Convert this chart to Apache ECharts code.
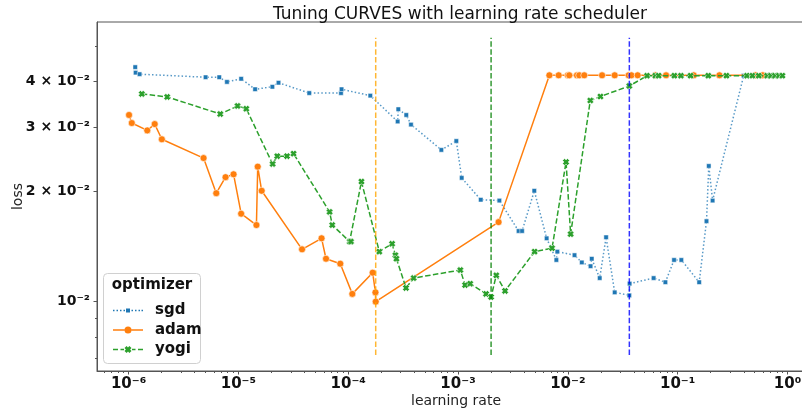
<!DOCTYPE html>
<html><head><meta charset="utf-8">
<script src="https://cdn.jsdelivr.net/npm/echarts@6/dist/echarts.min.js"></script>
<style>html,body{margin:0;padding:0;background:#fff;overflow:hidden}#c{width:830px;height:414px}</style>
</head><body><div id="c"></div>
<script>
// ---- data ----
const sgdLr = [1.15e-6, 1.16e-6, 1.26e-6, 5.03e-6, 6.70e-6, 7.87e-6, 1.06e-5, 1.42e-5, 2.04e-5, 2.32e-5, 4.42e-5, 8.6e-5, 8.7e-5, 1.59e-4, 2.82e-4, 2.86e-4, 3.38e-4, 3.73e-4, 7.05e-4, 9.65e-4, 1.08e-3, 1.61e-3, 2.38e-3, 3.56e-3, 3.83e-3, 4.95e-3, 6.41e-3, 7.86e-3, 8.02e-3, 0.0115, 0.0134, 0.0161, 0.0165, 0.0195, 0.0223, 0.0267, 0.0363, 0.0365, 0.0604, 0.0773, 0.0927, 0.108, 0.157, 0.183, 0.192, 0.208, 0.399, 0.55, 0.7, 0.85];
const sgdLoss = [0.0438, 0.0423, 0.0419, 0.0411, 0.0411, 0.0399, 0.0407, 0.0381, 0.0387, 0.0397, 0.0372, 0.0372, 0.0381, 0.0366, 0.0311, 0.0336, 0.0324, 0.0305, 0.0260, 0.0275, 0.0218, 0.0190, 0.0189, 0.0156, 0.0156, 0.0201, 0.0149, 0.0130, 0.0137, 0.0134, 0.0128, 0.0125, 0.0131, 0.0116, 0.0150, 0.0106, 0.0104, 0.0112, 0.0116, 0.0113, 0.0130, 0.0130, 0.0113, 0.0166, 0.0235, 0.0189, 0.0415, 0.0415, 0.0415, 0.0415];

const adamLr = [1.01e-6, 1.07e-6, 1.48e-6, 1.73e-6, 2.01e-6, 4.82e-6, 6.29e-6, 7.64e-6, 9.04e-6, 1.06e-5, 1.46e-5, 1.50e-5, 1.63e-5, 3.80e-5, 5.72e-5, 6.28e-5, 8.47e-5, 1.09e-4, 1.67e-4, 1.77e-4, 1.78e-4, 2.34e-3, 6.79e-3, 8.25e-3, 0.0100, 0.0103, 0.0121, 0.0127, 0.0141, 0.0205, 0.0267, 0.0358, 0.0379, 0.0432, 0.0626, 0.0784, 0.140, 0.240, 0.510, 0.595];
const adamLoss = [0.0324, 0.0308, 0.0294, 0.0306, 0.0278, 0.0247, 0.0198, 0.0219, 0.0223, 0.0174, 0.0162, 0.0234, 0.0201, 0.0139, 0.0149, 0.0131, 0.0127, 0.0105, 0.0120, 0.0106, 0.0100, 0.0165, 0.0416, 0.0416, 0.0416, 0.0416, 0.0416, 0.0416, 0.0416, 0.0416, 0.0416, 0.0416, 0.0416, 0.0416, 0.0416, 0.0416, 0.0416, 0.0416, 0.0416, 0.0416];

const yogiLr = [1.32e-6, 2.25e-6, 6.84e-6, 9.83e-6, 1.18e-5, 2.05e-5, 2.26e-5, 2.77e-5, 3.18e-5, 6.77e-5, 7.16e-5, 1.03e-4, 1.06e-4, 1.32e-4, 1.92e-4, 2.51e-4, 2.69e-4, 2.75e-4, 3.36e-4, 3.94e-4, 1.05e-3, 1.16e-3, 1.29e-3, 1.80e-3, 2.00e-3, 2.23e-3, 2.68e-3, 4.98e-3, 7.18e-3, 9.63e-3, 0.0106, 0.0160, 0.0198, 0.0363, 0.0526, 0.0626, 0.0671, 0.0933, 0.107, 0.131, 0.190, 0.278, 0.427, 0.479, 0.547, 0.652, 0.706, 0.768, 0.835, 0.899];
const yogiLoss = [0.0370, 0.0363, 0.0326, 0.0343, 0.0337, 0.0238, 0.0250, 0.0250, 0.0254, 0.0176, 0.0162, 0.0146, 0.0146, 0.0213, 0.0137, 0.0144, 0.0134, 0.0131, 0.0109, 0.0116, 0.0122, 0.0111, 0.0112, 0.0105, 0.0103, 0.0118, 0.0107, 0.0137, 0.0140, 0.0241, 0.0153, 0.0355, 0.0364, 0.0389, 0.0415, 0.0415, 0.0415, 0.0415, 0.0415, 0.0415, 0.0415, 0.0415, 0.0415, 0.0415, 0.0415, 0.0415, 0.0415, 0.0415, 0.0415, 0.0415];

const bestLr = [1.78e-4, 2.0e-3, 0.0363];        // adam, yogi, sgd best learning rates
const bestSpan = [0.00715, 0.0527];               // vertical extent of the marker lines
const xTickValues = [1e-6, 1e-5, 1e-4, 1e-3, 1e-2, 1e-1, 1];
const yTickValues = [0.01, 0.02, 0.03, 0.04];
const yMinorValues = [0.007, 0.008, 0.009, 0.05];
const xRange = [5.16e-7, 1.78];
const yRange = [0.00646, 0.0582];

const xMinorValues = [];
for (let e = -7; e <= 0; e++) for (let m = 2; m <= 9; m++) {
  const v = m * Math.pow(10, e);
  if (v > xRange[0] && v < xRange[1]) xMinorValues.push(v);
}

const SUP = {'-':'⁻','0':'⁰','1':'¹','2':'²','3':'³','4':'⁴','5':'⁵','6':'⁶','7':'⁷','8':'⁸','9':'⁹'};
const sup = n => String(n).split('').map(c => SUP[c]).join('');
const fmtX = v => '10' + sup(Math.round(Math.log10(v)));
const fmtY = v => { const e = Math.floor(Math.log10(v) + 1e-9); const m = Math.round(v / Math.pow(10, e)); return (m === 1 ? '' : m + ' × ') + '10' + sup(e); };

const pairs = (xs, ys) => xs.map((x, i) => [x, ys[i]]);
const FONT = 'DejaVu Sans';
const XMARK = 'path://M0,3 L3,0 L5,2 L7,0 L10,3 L8,5 L10,7 L7,10 L5,8 L3,10 L0,7 L2,5 Z';

// legend icons (30 x 12 box): line sample + marker
const corners = 'M0,0 L0.01,0 L0.01,0.01 Z M30,12 L29.99,12 L29.99,11.99 Z ';
const seg = (a, b) => `M${a},5.25 L${b},5.25 L${b},6.75 L${a},6.75 Z `;
const iconSgd = 'path://' + corners + [0, 3.5, 7, 10.5, 18.5, 22, 25.5, 28.5].map(a => seg(a, a + 1.5)).join('') + 'M13,4 L17,4 L17,8 L13,8 Z';
const iconAdam = 'path://' + corners + seg(0, 11.6) + seg(18.4, 30) + 'M11.5,6 A3.5,3.5 0 1,0 18.5,6 A3.5,3.5 0 1,0 11.5,6 Z';
const iconYogi = 'path://' + corners + seg(0, 5) + seg(7.5, 11) + seg(19, 22.5) + seg(25, 30) +
  'M11.5,4.6 L13.6,2.5 L15,3.9 L16.4,2.5 L18.5,4.6 L17.1,6 L18.5,7.4 L16.4,9.5 L15,8.1 L13.6,9.5 L11.5,7.4 L12.9,6 Z';

const chart = echarts.init(document.getElementById('c'), null, {renderer: 'canvas'});
const axisCommon = {axisLine: {show: true, lineStyle: {color: '#555', width: 1}}, splitLine: {show: false}};
const vColors = ['#ffa500', '#008000', '#0000ff'];

chart.setOption({
  animation: false,
  backgroundColor: '#fff',
  textStyle: {fontFamily: FONT},
  title: {text: 'Tuning CURVES with learning rate scheduler', left: 455, top: 1, textAlign: 'center',
          textStyle: {fontFamily: FONT, fontSize: 17, fontWeight: 'normal', color: '#111'}},
  grid: {left: 97, top: 22, width: 718, height: 349, show: true, borderColor: '#555', borderWidth: 1,
         containLabel: false, outerBoundsMode: 'none'},
  xAxis: [
    Object.assign({type: 'log', logBase: 10, min: xRange[0], max: xRange[1], position: 'bottom',
      name: 'learning rate', nameLocation: 'middle', nameGap: 23, nameMoveOverlap: false,
      nameTextStyle: {fontFamily: FONT, fontSize: 14, color: '#222'},
      axisTick: {show: true, length: 3.5, customValues: xTickValues, lineStyle: {color: '#555'}},
      axisLabel: {customValues: xTickValues, formatter: fmtX, margin: 6, fontFamily: FONT, fontSize: 15, fontWeight: 'bold', color: '#111'}}, axisCommon),
    {type: 'log', logBase: 10, min: xRange[0], max: xRange[1], position: 'bottom', axisLine: {show: false}, splitLine: {show: false},
      axisTick: {show: true, length: 2, customValues: xMinorValues, lineStyle: {color: '#555'}}, axisLabel: {show: false}}
  ],
  yAxis: [
    Object.assign({type: 'log', logBase: 10, min: yRange[0], max: yRange[1], position: 'left',
      name: 'loss', nameLocation: 'middle', nameGap: 72, nameRotate: 90, nameMoveOverlap: false,
      nameTextStyle: {fontFamily: FONT, fontSize: 14, color: '#222'},
      axisTick: {show: true, length: 3.5, customValues: yTickValues, lineStyle: {color: '#555'}},
      axisLabel: {customValues: yTickValues, formatter: fmtY, margin: 7, fontFamily: FONT, fontSize: 14, fontWeight: 'bold', color: '#111'}}, axisCommon),
    {type: 'log', logBase: 10, min: yRange[0], max: yRange[1], position: 'left', axisLine: {show: false}, splitLine: {show: false},
      axisTick: {show: true, length: 2, customValues: yMinorValues, lineStyle: {color: '#555'}}, axisLabel: {show: false}}
  ],
  legend: {
    data: [{name: 'sgd', icon: iconSgd}, {name: 'adam', icon: iconAdam}, {name: 'yogi', icon: iconYogi}],
    orient: 'vertical', left: 108, top: 298, itemWidth: 30, itemHeight: 12, itemGap: 4.5, z: 6,
    itemStyle: {borderWidth: 0}, symbolKeepAspect: false,
    textStyle: {fontFamily: FONT, fontSize: 15, fontWeight: 'bold', color: '#111', padding: [0, 0, 0, 7]}
  },
  graphic: [
    {type: 'rect', z: 5, shape: {x: 103.5, y: 273.5, width: 97, height: 90, r: 4},
     style: {fill: 'rgba(255,255,255,0.85)', stroke: '#d0d0d0', lineWidth: 1}},
    {type: 'text', z: 6, x: 152, y: 285, style: {text: 'optimizer', fontFamily: FONT, fontSize: 15, fontWeight: 'bold', fill: '#111', align: 'center', verticalAlign: 'middle'}}
  ],
  series: [
    {name: 'sgd', type: 'line', data: pairs(sgdLr, sgdLoss), symbol: 'rect', symbolSize: 4.5, z: 2,
     lineStyle: {color: '#1f77b4', width: 1.5, type: [1.5, 2.2], opacity: 0.75},
     itemStyle: {color: '#1f77b4', borderColor: '#fff', borderWidth: 0.5}},
    {name: 'adam', type: 'line', data: pairs(adamLr, adamLoss), symbol: 'circle', symbolSize: 7, z: 3,
     lineStyle: {color: '#ff7f0e', width: 1.5, type: 'solid'},
     itemStyle: {color: '#ff7f0e', borderColor: '#fff', borderWidth: 0.6}},
    {name: 'yogi', type: 'line', data: pairs(yogiLr, yogiLoss), symbol: XMARK, symbolSize: 7, z: 4,
     lineStyle: {color: '#2ca02c', width: 1.5, type: [5.5, 2.4]},
     itemStyle: {color: '#2ca02c', borderColor: '#fff', borderWidth: 0.6}},
  ].concat(bestLr.map((x, i) => ({
     name: 'best' + i, type: 'line', data: bestSpan.map(y => [x, y]), symbol: 'none', silent: true, z: 5,
     lineStyle: {color: vColors[i], width: 1.5, type: [5.5, 2.4], opacity: 0.8}
  })))
});
</script></body></html>
